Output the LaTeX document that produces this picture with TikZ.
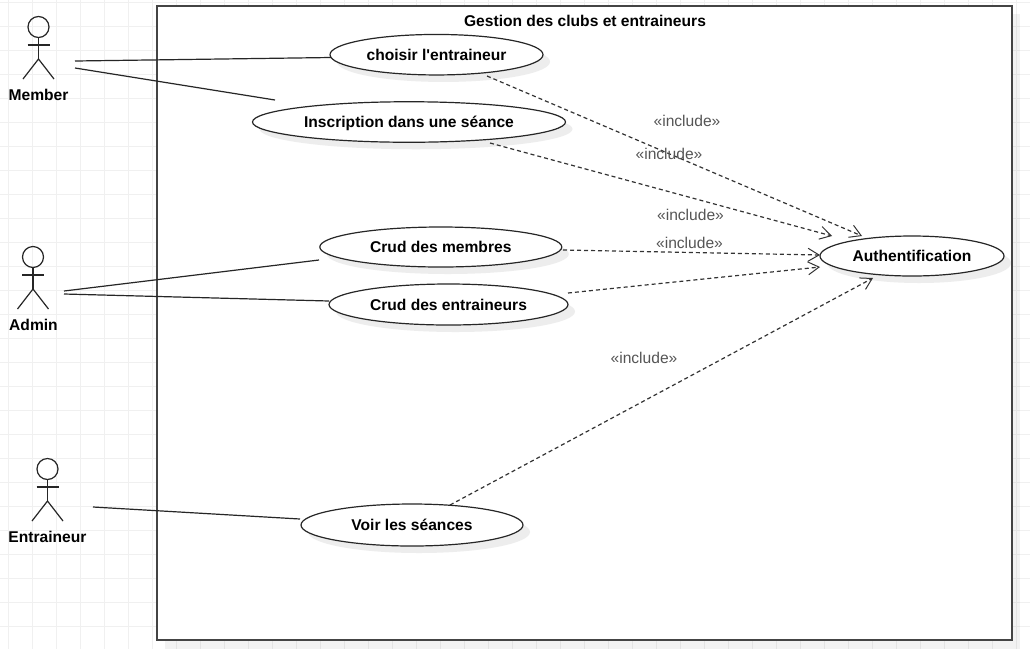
\documentclass[tikz,border=0pt]{standalone}
\usepackage{fontspec}
\setmainfont{Liberation Sans}
\usetikzlibrary{arrows.meta,shapes.geometric,shadows}
\definecolor{gridcol}{HTML}{F0F0F0}
\definecolor{framecol}{HTML}{444444}
\definecolor{inccol}{HTML}{555555}
\tikzset{
  usecase/.style={draw=black!85, fill=white, ellipse, line width=1.2pt, inner sep=0pt,
    text height=11pt, text depth=0pt,
    font=\fontsize{15.6}{18}\selectfont\bfseries,
    drop shadow={shadow xshift=7pt, shadow yshift=-7pt, fill=black!7, opacity=1}},
  head/.style={draw=black!85, circle, line width=1.2pt, minimum size=21pt, inner sep=0pt},
  limb/.style={draw=black!85, line width=1.2pt},
  actorname/.style={text height=11pt, text depth=0pt, font=\fontsize{15.6}{18}\selectfont\bfseries},
  assoc/.style={draw=black!85, line width=1.2pt},
  incl/.style={draw=black!80, dashed, dash pattern=on 4pt off 3pt, line width=1.2pt,
    -{Straight Barb[length=11pt,width=13pt,line width=1pt]}},
  inctext/.style={text=inccol, text height=11pt, text depth=0pt, font=\fontsize{15.6}{18}\selectfont},
}
\begin{document}
\begin{tikzpicture}[x=1pt, y=-1pt]
\useasboundingbox (0,0) rectangle (1030,649);
\fill[white] (0,0) rectangle (1030,649);
% grid
\foreach \gx in {8,32,...,1030} {\draw[gridcol, line width=0.8pt] (\gx,0) -- (\gx,649);}
\foreach \gy in {2,26,...,649} {\draw[gridcol, line width=0.8pt] (0,\gy) -- (1030,\gy);}
% frame
\fill[black, opacity=0.05] (165,14) rectangle (1020,649);
\node[draw=framecol, fill=white, line width=1.5pt, minimum width=855pt, minimum height=634pt, inner sep=0pt] (P_frame) at (584.5,323) {};
\node[actorname] (P_title) at (585,20.5) {Gestion des clubs et entraineurs};
% member
\node[head] (A_member) at (38.5,27) {};
\coordinate (A_member_hip) at (38.5,59);
\draw[limb] (A_member) -- (A_member_hip);
\coordinate (A_member_l) at (27.5,45);
\coordinate (A_member_r) at (49.5,45);
\draw[limb] (A_member_l) -- (A_member_r);
\coordinate (A_member_f1) at (23,79);
\coordinate (A_member_f2) at (54,79);
\draw[limb] (A_member_f1) -- (A_member_hip) -- (A_member_f2);
\node[actorname] (L_member) at (38.5,94.5) {Member};
% admin
\node[head] (A_admin) at (33,257) {};
\coordinate (A_admin_hip) at (33,289);
\draw[limb] (A_admin) -- (A_admin_hip);
\coordinate (A_admin_l) at (22,275);
\coordinate (A_admin_r) at (44,275);
\draw[limb] (A_admin_l) -- (A_admin_r);
\coordinate (A_admin_f1) at (17.5,309);
\coordinate (A_admin_f2) at (48.5,309);
\draw[limb] (A_admin_f1) -- (A_admin_hip) -- (A_admin_f2);
\node[actorname] (L_admin) at (33.5,324.5) {Admin};
% entraineur
\node[head] (A_entr) at (47.5,469) {};
\coordinate (A_entr_hip) at (47.5,501);
\draw[limb] (A_entr) -- (A_entr_hip);
\coordinate (A_entr_l) at (36.5,487);
\coordinate (A_entr_r) at (58.5,487);
\draw[limb] (A_entr_l) -- (A_entr_r);
\coordinate (A_entr_f1) at (32,521);
\coordinate (A_entr_f2) at (63,521);
\draw[limb] (A_entr_f1) -- (A_entr_hip) -- (A_entr_f2);
\node[actorname] (L_entr) at (47.5,537) {Entraineur};
% use cases
\node[usecase, minimum width=213pt, minimum height=40.5pt] (U_choisir) at (436.5,54.7) {choisir l\textquotesingle entraineur};
\node[usecase, minimum width=313pt, minimum height=40.5pt] (U_inscr) at (409,122) {Inscription dans une séance};
\node[usecase, minimum width=242pt, minimum height=40pt] (U_membres) at (440.8,247) {Crud des membres};
\node[usecase, minimum width=239pt, minimum height=41pt] (U_entr) at (448.5,304.5) {Crud des entraineurs};
\node[usecase, minimum width=222pt, minimum height=42pt] (U_voir) at (412,525) {Voir les séances};
\node[usecase, minimum width=184pt, minimum height=40pt] (U_auth) at (912,256) {Authentification};
% associations
\coordinate (C_m1) at (75,61);
\coordinate (C_mc) at (331,57.5);
\coordinate (C_m2) at (75,68);
\coordinate (C_i) at (275,100);
\coordinate (C_a1) at (64,291);
\coordinate (C_a2) at (64,294);
\coordinate (C_am) at (319,260);
\coordinate (C_ae) at (329,301);
\coordinate (C_e) at (93,507);
\coordinate (C_v) at (300,519);
\draw[assoc] (C_m1) -- (C_mc);
\draw[assoc] (C_m2) -- (C_i);
\draw[assoc] (C_a1) -- (C_am);
\draw[assoc] (C_a2) -- (C_ae);
\draw[assoc] (C_e) -- (C_v);
% includes
\coordinate (I_1a) at (487,76);
\coordinate (I_1b) at (862,236);
\coordinate (I_2a) at (490,143);
\coordinate (I_2b) at (832,236);
\coordinate (I_3a) at (563,250);
\coordinate (I_3b) at (820,255);
\coordinate (I_4a) at (568,293);
\coordinate (I_4b) at (820,267);
\coordinate (I_5a) at (450,505);
\coordinate (I_5b) at (873,278);
\draw[incl] (I_1a) -- (I_1b);
\draw[incl] (I_2a) -- (I_2b);
\draw[incl] (I_3a) -- (I_3b);
\draw[incl] (I_4a) -- (I_4b);
\draw[incl] (I_5a) -- (I_5b);
\node[inctext] (T_1) at (687,121) {«include»};
\node[inctext] (T_2) at (669,154) {«include»};
\node[inctext] (T_3) at (690.5,215) {«include»};
\node[inctext] (T_4) at (689.5,243) {«include»};
\node[inctext] (T_5) at (644,358) {«include»};
\end{tikzpicture}
\end{document}
